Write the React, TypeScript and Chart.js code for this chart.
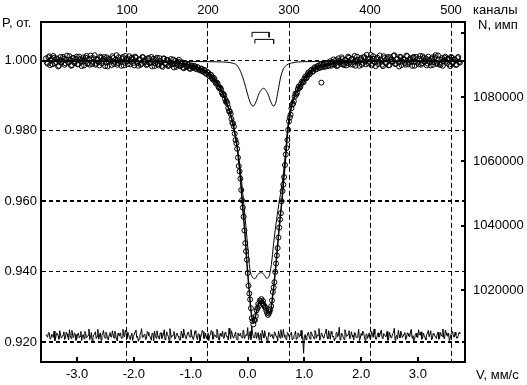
import React, { useEffect, useRef } from 'react';
import { Chart, registerables } from 'chart.js';

Chart.register(...registerables);

// ---- axis ticks ----
const velocityTicks = [-3, -2, -1, 0, 1, 2, 3];
const channelTicks = [100, 200, 300, 400, 500];
const transmissionTicks = [0.92, 0.94, 0.96, 0.98, 1.0];
const countTicks = [1020000, 1040000, 1060000, 1080000, 1100000];

// ---- experimental spectrum, even channels 0,2,4,... (relative transmission) ----
const spectrumEven = [
  1.0006, 0.9991, 1.0012, 1.0001, 0.9989, 1.0008, 0.9996, 1.0003, 0.9985, 1.0010,
  0.9999, 1.0005, 0.9992, 1.0014, 0.9994, 1.0002, 0.9987, 1.0007, 0.9997, 1.0011,
  0.9990, 1.0004, 0.9984, 1.0009, 0.9998, 1.0013, 0.9993, 0.9988, 1.0006, 0.9996,
  1.0015, 0.9991, 1.0003, 0.9986, 1.0008, 0.9999, 1.0010, 0.9994, 0.9983, 1.0005,
  0.9997, 1.0012, 0.9990, 1.0002, 0.9988, 1.0009, 0.9995, 1.0006, 0.9986, 1.0013,
  0.9998, 1.0003, 0.9989, 1.0008, 0.9993, 1.0011, 0.9996, 0.9985, 1.0004, 0.9991,
  1.0009, 0.9995, 0.9987, 1.0006, 0.9992, 1.0010, 0.9997, 0.9984, 1.0003, 0.9990,
  1.0007, 0.9994, 0.9982, 1.0005, 0.9989, 1.0001, 0.9986, 1.0004, 0.9991, 0.9980,
  0.9999, 0.9987, 1.0002, 0.9984, 0.9995, 0.9978, 0.9993, 0.9981, 0.9988, 0.9976,
  0.9986, 0.9979, 0.9983, 0.9975, 0.9980, 0.9972, 0.9977, 0.9968, 0.9973, 0.9962,
  0.9966, 0.9955, 0.9958, 0.9946, 0.9947, 0.9934, 0.9934, 0.9921, 0.9919, 0.9903,
  0.9901, 0.9883, 0.9877, 0.9856, 0.9848, 0.9823, 0.9812, 0.9774, 0.9749, 0.9700,
  0.9664, 0.9603, 0.9556, 0.9481, 0.9434, 0.9360, 0.9321, 0.9268, 0.9250, 0.9262,
  0.9290, 0.9308, 0.9318, 0.9322, 0.9316, 0.9300, 0.9289, 0.9277, 0.9286, 0.9302,
  0.9342, 0.9370, 0.9423, 0.9467, 0.9525, 0.9566, 0.9629, 0.9669, 0.9733, 0.9774,
  0.9827, 0.9846, 0.9875, 0.9884, 0.9906, 0.9909, 0.9926, 0.9925, 0.9940, 0.9939,
  0.9954, 0.9952, 0.9966, 0.9963, 0.9974, 0.9970, 0.9981, 0.9975, 0.9985, 0.9979,
  0.9937, 0.9988, 0.9982, 0.9991, 0.9984, 0.9993, 0.9985, 0.9996, 0.9988, 1.0001,
  0.9986, 0.9999, 0.9990, 1.0004, 0.9987, 1.0002, 0.9993, 1.0008, 0.9989, 1.0005,
  0.9996, 0.9985, 1.0011, 0.9994, 1.0003, 0.9988, 1.0009, 0.9997, 1.0016, 0.9992,
  1.0006, 0.9986, 1.0012, 0.9995, 1.0004, 0.9990, 1.0014, 0.9998, 0.9984, 1.0007,
  0.9993, 1.0010, 0.9987, 1.0003, 0.9996, 1.0015, 0.9991, 1.0005, 0.9983, 1.0009,
  0.9997, 1.0002, 0.9988, 1.0012, 0.9994, 1.0006, 0.9985, 1.0010, 0.9996, 1.0003,
  0.9989, 1.0013, 0.9992, 1.0007, 0.9998, 0.9986, 1.0011, 0.9995, 1.0004, 0.9988,
  1.0009, 0.9993, 1.0014, 0.9990, 1.0002, 0.9985, 1.0008, 0.9997, 1.0005, 0.9989,
  1.0010, 0.9994, 1.0003, 0.9987, 1.0007, 0.9996,
];

// ---- experimental spectrum, odd channels 1,3,5,... ----
const spectrumOdd = [
  0.9994, 1.0009, 0.9987, 1.0004, 1.0013, 0.9992, 1.0006, 0.9983, 1.0001, 0.9995,
  1.0010, 0.9988, 1.0003, 0.9996, 1.0012, 0.9985, 1.0007, 0.9993, 1.0005, 0.9989,
  1.0011, 0.9997, 1.0002, 0.9986, 1.0008, 0.9991, 1.0004, 1.0014, 0.9990, 1.0006,
  0.9988, 1.0003, 0.9995, 1.0011, 0.9992, 1.0005, 0.9984, 1.0009, 0.9998, 1.0002,
  0.9987, 1.0007, 0.9996, 1.0015, 0.9993, 1.0001, 0.9985, 1.0010, 0.9994, 1.0004,
  0.9990, 1.0012, 0.9997, 1.0005, 0.9986, 1.0008, 0.9993, 1.0002, 0.9988, 1.0010,
  0.9996, 1.0003, 0.9989, 1.0007, 0.9994, 0.9983, 1.0005, 0.9991, 1.0008, 0.9986,
  0.9998, 0.9985, 1.0006, 0.9993, 1.0002, 0.9984, 0.9996, 0.9988, 1.0003, 0.9990,
  0.9982, 0.9997, 0.9986, 0.9992, 0.9980, 0.9990, 0.9983, 0.9987, 0.9978, 0.9984,
  0.9980, 0.9985, 0.9977, 0.9981, 0.9974, 0.9976, 0.9970, 0.9972, 0.9964, 0.9967,
  0.9957, 0.9960, 0.9950, 0.9951, 0.9939, 0.9937, 0.9925, 0.9923, 0.9909, 0.9905,
  0.9891, 0.9884, 0.9865, 0.9855, 0.9834, 0.9821, 0.9792, 0.9765, 0.9724, 0.9685,
  0.9632, 0.9582, 0.9517, 0.9458, 0.9396, 0.9338, 0.9296, 0.9259, 0.9263, 0.9274,
  0.9296, 0.9303, 0.9316, 0.9311, 0.9305, 0.9297, 0.9283, 0.9281, 0.9293, 0.9318,
  0.9355, 0.9399, 0.9446, 0.9497, 0.9548, 0.9600, 0.9647, 0.9703, 0.9751, 0.9803,
  0.9838, 0.9864, 0.9877, 0.9897, 0.9903, 0.9919, 0.9922, 0.9934, 0.9937, 0.9948,
  0.9949, 0.9961, 0.9960, 0.9971, 0.9968, 0.9978, 0.9976, 0.9983, 0.9980, 0.9988,
  0.9981, 0.9990, 0.9983, 0.9994, 0.9986, 0.9998, 0.9989, 1.0003, 0.9992, 0.9984,
  1.0006, 0.9995, 1.0009, 0.9990, 1.0001, 0.9986, 1.0011, 0.9994, 1.0004, 0.9988,
  1.0013, 0.9997, 1.0002, 0.9985, 1.0007, 0.9993, 1.0010, 0.9989, 1.0004, 0.9996,
  1.0016, 0.9991, 1.0005, 0.9984, 1.0008, 0.9997, 1.0002, 0.9988, 1.0012, 0.9994,
  1.0006, 0.9986, 1.0009, 0.9998, 1.0013, 0.9990, 1.0003, 0.9995, 1.0011, 0.9987,
  1.0005, 0.9993, 1.0014, 0.9989, 1.0001, 0.9996, 1.0008, 0.9985, 1.0010, 0.9994,
  1.0004, 0.9988, 1.0012, 0.9997, 1.0006, 0.9991, 1.0002, 0.9986, 1.0009, 0.9995,
  1.0015, 0.9990, 1.0003, 0.9987, 1.0007, 0.9998, 1.0011, 0.9992, 1.0005, 0.9984,
  1.0008, 0.9996, 1.0002, 0.9989, 1.0010, 0.9994,
];

// ---- residual (difference) curve, even channels ----
const residualEven = [
  0.9221, 0.9214, 0.9226, 0.9210, 0.9219, 0.9231, 0.9212, 0.9224, 0.9208, 0.9220,
  0.9215, 0.9229, 0.9211, 0.9223, 0.9206, 0.9218, 0.9233, 0.9213, 0.9222, 0.9209,
  0.9225, 0.9216, 0.9204, 0.9221, 0.9230, 0.9212, 0.9219, 0.9207, 0.9227, 0.9214,
  0.9222, 0.9210, 0.9236, 0.9217, 0.9205, 0.9224, 0.9213, 0.9228, 0.9209, 0.9220,
  0.9215, 0.9232, 0.9211, 0.9223, 0.9203, 0.9219, 0.9226, 0.9212, 0.9218, 0.9234,
  0.9210, 0.9221, 0.9207, 0.9225, 0.9216, 0.9229, 0.9213, 0.9202, 0.9220, 0.9238,
  0.9214, 0.9222, 0.9209, 0.9227, 0.9217, 0.9205, 0.9224, 0.9231, 0.9211, 0.9219,
  0.9208, 0.9226, 0.9215, 0.9235, 0.9212, 0.9221, 0.9204, 0.9223, 0.9218, 0.9230,
  0.9210, 0.9225, 0.9213, 0.9206, 0.9222, 0.9237, 0.9216, 0.9209, 0.9228, 0.9214,
  0.9220, 0.9207, 0.9232, 0.9212, 0.9224, 0.9203, 0.9219, 0.9229, 0.9215, 0.9210,
  0.9226, 0.9217, 0.9233, 0.9208, 0.9221, 0.9213, 0.9227, 0.9205, 0.9218, 0.9231,
  0.9211, 0.9224, 0.9216, 0.9239, 0.9209, 0.9222, 0.9214, 0.9228, 0.9206, 0.9220,
  0.9225, 0.9212, 0.9234, 0.9215, 0.9219, 0.9207, 0.9230, 0.9246, 0.9213, 0.9223,
  0.9210, 0.9227, 0.9217, 0.9204, 0.9221, 0.9232, 0.9214, 0.9208, 0.9226, 0.9218,
  0.9211, 0.9229, 0.9216, 0.9202, 0.9222, 0.9235, 0.9213, 0.9220, 0.9209, 0.9227,
  0.9215, 0.9224, 0.9206, 0.9219, 0.9231, 0.9212, 0.9223, 0.9217, 0.9210, 0.9168,
  0.9221, 0.9214, 0.9228, 0.9208, 0.9225, 0.9216, 0.9233, 0.9211, 0.9219, 0.9205,
  0.9226, 0.9213, 0.9222, 0.9237, 0.9209, 0.9218, 0.9230, 0.9214, 0.9203, 0.9224,
  0.9215, 0.9242, 0.9210, 0.9221, 0.9207, 0.9227, 0.9217, 0.9232, 0.9212, 0.9220,
  0.9206, 0.9225, 0.9214, 0.9236, 0.9211, 0.9219, 0.9228, 0.9204, 0.9223, 0.9216,
  0.9209, 0.9230, 0.9213, 0.9222, 0.9208, 0.9226, 0.9218, 0.9234, 0.9210, 0.9221,
  0.9215, 0.9205, 0.9227, 0.9212, 0.9224, 0.9239, 0.9216, 0.9209, 0.9220, 0.9231,
  0.9213, 0.9223, 0.9207, 0.9226, 0.9217, 0.9229, 0.9211, 0.9202, 0.9222, 0.9214,
  0.9235, 0.9219, 0.9208, 0.9225, 0.9212, 0.9221, 0.9233, 0.9215, 0.9206, 0.9224,
  0.9218, 0.9210, 0.9228, 0.9213, 0.9220, 0.9237, 0.9209, 0.9226, 0.9216, 0.9204,
  0.9222, 0.9230, 0.9214, 0.9219, 0.9211, 0.9227,
];

// ---- residual, odd channels ----
const residualOdd = [
  0.9216, 0.9227, 0.9209, 0.9222, 0.9213, 0.9204, 0.9225, 0.9217, 0.9232, 0.9211,
  0.9220, 0.9207, 0.9228, 0.9214, 0.9235, 0.9210, 0.9219, 0.9226, 0.9205, 0.9223,
  0.9212, 0.9230, 0.9218, 0.9209, 0.9224, 0.9215, 0.9237, 0.9213, 0.9202, 0.9221,
  0.9229, 0.9216, 0.9208, 0.9226, 0.9219, 0.9233, 0.9211, 0.9222, 0.9206, 0.9227,
  0.9214, 0.9220, 0.9231, 0.9207, 0.9225, 0.9217, 0.9210, 0.9236, 0.9215, 0.9223,
  0.9228, 0.9212, 0.9219, 0.9204, 0.9222, 0.9234, 0.9216, 0.9209, 0.9226, 0.9213,
  0.9221, 0.9207, 0.9230, 0.9218, 0.9212, 0.9225, 0.9203, 0.9219, 0.9232, 0.9214,
  0.9226, 0.9210, 0.9222, 0.9206, 0.9229, 0.9216, 0.9238, 0.9213, 0.9220, 0.9208,
  0.9224, 0.9217, 0.9205, 0.9231, 0.9212, 0.9223, 0.9209, 0.9227, 0.9215, 0.9235,
  0.9211, 0.9219, 0.9226, 0.9207, 0.9221, 0.9214, 0.9233, 0.9210, 0.9225, 0.9218,
  0.9204, 0.9222, 0.9229, 0.9213, 0.9219, 0.9236, 0.9208, 0.9224, 0.9216, 0.9211,
  0.9227, 0.9215, 0.9206, 0.9223, 0.9232, 0.9212, 0.9220, 0.9209, 0.9226, 0.9217,
  0.9214, 0.9230, 0.9210, 0.9221, 0.9241, 0.9216, 0.9207, 0.9225, 0.9213, 0.9228,
  0.9219, 0.9206, 0.9224, 0.9234, 0.9212, 0.9218, 0.9203, 0.9227, 0.9215, 0.9222,
  0.9209, 0.9225, 0.9217, 0.9231, 0.9211, 0.9220, 0.9236, 0.9214, 0.9206, 0.9224,
  0.9218, 0.9228, 0.9210, 0.9221, 0.9207, 0.9226, 0.9215, 0.9233, 0.9212, 0.9219,
  0.9206, 0.9223, 0.9214, 0.9229, 0.9217, 0.9209, 0.9227, 0.9220, 0.9238, 0.9213,
  0.9221, 0.9211, 0.9226, 0.9215, 0.9232, 0.9208, 0.9224, 0.9217, 0.9210, 0.9228,
  0.9218, 0.9206, 0.9225, 0.9213, 0.9235, 0.9216, 0.9222, 0.9209, 0.9229, 0.9214,
  0.9227, 0.9212, 0.9219, 0.9204, 0.9224, 0.9231, 0.9215, 0.9221, 0.9210, 0.9226,
  0.9213, 0.9222, 0.9237, 0.9208, 0.9219, 0.9214, 0.9228, 0.9211, 0.9224, 0.9216,
  0.9230, 0.9209, 0.9221, 0.9215, 0.9226, 0.9205, 0.9219, 0.9233, 0.9212, 0.9223,
  0.9217, 0.9227, 0.9210, 0.9224, 0.9214, 0.9236, 0.9218, 0.9207, 0.9225, 0.9213,
  0.9221, 0.9229, 0.9211, 0.9218, 0.9206, 0.9226, 0.9215, 0.9232, 0.9209, 0.9220,
  0.9214, 0.9223, 0.9208, 0.9227, 0.9216, 0.9212, 0.9234, 0.9219, 0.9225, 0.9210,
  0.9222, 0.9215, 0.9228, 0.9211, 0.9219, 0.9224,
];

// ---- total fit (velocity mm/s, transmission) ----
const fitV = [-3.65, -2.5, -1.71, -1.36, -1.10, -0.92, -0.75, -0.61, -0.48, -0.40,
  -0.31, -0.24, -0.18, -0.13, -0.08, -0.04, -0.01, 0.03, 0.06, 0.10,
  0.13, 0.18, 0.25, 0.31, 0.36, 0.40, 0.45, 0.50, 0.55, 0.61,
  0.66, 0.71, 0.76, 0.83, 0.92, 1.01, 1.10, 1.18, 1.27, 1.45,
  1.71, 2.15, 3.0, 3.85];
const fitP = [0.9998, 0.9998, 0.9997, 0.9994, 0.9990, 0.9982, 0.9970, 0.9950, 0.9922, 0.9893,
  0.9853, 0.9808, 0.9751, 0.9674, 0.9574, 0.9498, 0.9423, 0.9347, 0.9290, 0.9258,
  0.9267, 0.9301, 0.9318, 0.9304, 0.9281, 0.9284, 0.9341, 0.9418, 0.9512, 0.9609,
  0.9703, 0.9802, 0.9859, 0.9899, 0.9928, 0.9950, 0.9967, 0.9977, 0.9983, 0.9990,
  0.9994, 0.9997, 0.9998, 0.9998];

// ---- large doublet component ----
const bigV = [-3.65, -2.5, -1.71, -1.36, -1.10, -0.92, -0.75, -0.61, -0.48, -0.40,
  -0.31, -0.24, -0.20, -0.13, -0.08, -0.03, 0.01, 0.04, 0.08, 0.13,
  0.18, 0.24, 0.29, 0.34, 0.38, 0.42, 0.46, 0.50, 0.55, 0.61,
  0.66, 0.71, 0.76, 0.83, 0.92, 1.01, 1.10, 1.18, 1.27, 1.45,
  1.71, 2.15, 3.0, 3.85];
const bigP = [0.9998, 0.9998, 0.9997, 0.9994, 0.9990, 0.9982, 0.9970, 0.9950, 0.9922, 0.9893,
  0.9853, 0.9811, 0.9774, 0.9694, 0.9617, 0.9532, 0.9460, 0.9409, 0.9386, 0.9380,
  0.9392, 0.9397, 0.9392, 0.9381, 0.9387, 0.9420, 0.9480, 0.9533, 0.9590, 0.9651,
  0.9720, 0.9810, 0.9861, 0.9901, 0.9929, 0.9951, 0.9967, 0.9977, 0.9983, 0.9990,
  0.9994, 0.9997, 0.9998, 0.9998];

// ---- small doublet component ----
const smallV = [-3.65, -1.0, -0.5, -0.25, -0.19, -0.12, -0.06, 0.0, 0.05, 0.10,
  0.15, 0.20, 0.25, 0.28, 0.31, 0.36, 0.41, 0.46, 0.50, 0.54,
  0.58, 0.63, 0.69, 0.78, 0.9, 1.2, 3.85];
const smallP = [0.9997, 0.9997, 0.9996, 0.9992, 0.9987, 0.9968, 0.9940, 0.9905, 0.9880, 0.9870,
  0.9883, 0.9905, 0.9918, 0.9921, 0.9918, 0.9905, 0.9883, 0.9870, 0.9882, 0.9915,
  0.9950, 0.9975, 0.9987, 0.9993, 0.9996, 0.9997, 0.9997];

// ---- doublet line-position brackets ----
const bracketUpperV = [0.08, 0.08, 0.38, 0.38];
const bracketUpperP = [1.0066, 1.0080, 1.0080, 1.0066];
const bracketLowerV = [0.13, 0.13, 0.46, 0.46];
const bracketLowerP = [1.0048, 1.0060, 1.0060, 1.0048];

const FONT = '"Liberation Sans", Arial, sans-serif';

const pairs = (xs: number[], ys: number[]) => xs.map((x, i) => ({ x, y: ys[i] }));
// even / odd channel arrays merged into channel order
const byChannel = (even: number[], odd: number[]) =>
  even.flatMap((e, i) => [{ x: 2 * i, y: e }, { x: 2 * i + 1, y: odd[i] }]);

const decorPlugin = {
  id: 'decor',
  afterDraw(chart: any) {
    const ctx = chart.ctx;
    const area = chart.chartArea;
    const xs = chart.scales.x;
    const ys2 = chart.scales.y2;
    ctx.save();
    ctx.strokeStyle = '#000';
    ctx.lineWidth = 2;
    ctx.setLineDash([]);
    ctx.beginPath();
    xs.ticks.forEach((t: any) => {
      const px = Math.round(xs.getPixelForValue(t.value));
      ctx.moveTo(px, area.bottom);
      ctx.lineTo(px, area.bottom - 5);
    });
    ctx.stroke();
    ctx.beginPath();
    ys2.ticks.forEach((t: any) => {
      const py = Math.round(ys2.getPixelForValue(t.value));
      ctx.moveTo(area.right, py);
      ctx.lineTo(area.right - 4, py);
    });
    ctx.stroke();
    ctx.fillStyle = '#000';
    ctx.font = '13px ' + FONT;
    ctx.textBaseline = 'middle';
    ctx.textAlign = 'left';
    ctx.fillText('P, от.', 2, 23);
    ctx.fillText('каналы', 473, 10);
    ctx.fillText('N, имп', 478, 25);
    ctx.fillText('V, мм/с', 476, 375);
    ctx.restore();
  },
};

const fixBox = (w: number | null, h: number | null) => (s: any) => {
  if (w !== null) s.width = w;
  if (h !== null) s.height = h;
  s.paddingLeft = 0;
  s.paddingRight = 0;
  s.paddingTop = 0;
  s.paddingBottom = 0;
};

export default function App() {
  const ref = useRef<HTMLCanvasElement | null>(null);

  useEffect(() => {
    if (!ref.current) return;
    Chart.defaults.font.family = FONT;
    Chart.defaults.font.size = 13;
    Chart.defaults.color = '#000';

    const lineCommon = {
      type: 'line' as const,
      borderColor: '#000',
      pointRadius: 0,
      fill: false,
      xAxisID: 'x',
      yAxisID: 'y',
    };

    const chart = new Chart(ref.current, {
      type: 'line',
      data: {
        datasets: [
          { ...lineCommon, label: 'bracket1', data: pairs(bracketUpperV, bracketUpperP), borderWidth: 1, tension: 0 },
          { ...lineCommon, label: 'bracket2', data: pairs(bracketLowerV, bracketLowerP), borderWidth: 1, tension: 0 },
          { ...lineCommon, label: 'fit', data: pairs(fitV, fitP), borderWidth: 1.5, cubicInterpolationMode: 'monotone' },
          { ...lineCommon, label: 'big', data: pairs(bigV, bigP), borderWidth: 1, cubicInterpolationMode: 'monotone' },
          { ...lineCommon, label: 'small', data: pairs(smallV, smallP), borderWidth: 1, cubicInterpolationMode: 'monotone' },
          {
            ...lineCommon,
            label: 'residual',
            xAxisID: 'x2',
            data: byChannel(residualEven, residualOdd),
            borderWidth: 1,
            tension: 0,
          },
          {
            type: 'line',
            label: 'experiment',
            xAxisID: 'x2',
            yAxisID: 'y',
            showLine: false,
            data: byChannel(spectrumEven, spectrumOdd),
            pointRadius: 2.5,
            pointBorderWidth: 1,
            pointBorderColor: '#000',
            pointBackgroundColor: 'rgba(0,0,0,0)',
            borderColor: '#000',
          },
        ] as any,
      },
      options: {
        responsive: false,
        maintainAspectRatio: false,
        animation: false,
        events: [],
        layout: { padding: 0, autoPadding: false } as any,
        plugins: { legend: { display: false }, tooltip: { enabled: false } },
        scales: {
          x: {
            type: 'linear',
            position: 'bottom',
            min: -3.6356,
            max: 3.8292,
            afterBuildTicks: (s: any) => { s.ticks = velocityTicks.map((v) => ({ value: v })); },
            afterFit: fixBox(null, 23),
            grid: { display: false, drawTicks: false },
            border: { display: true, color: '#000', width: 2 },
            ticks: {
              color: '#000',
              padding: 5,
              maxRotation: 0,
              autoSkip: false,
              font: { family: FONT, size: 13 },
              callback: (v: any) => Number(v).toFixed(1),
            },
          },
          x2: {
            type: 'linear',
            position: 'top',
            min: -6.17,
            max: 517.28,
            afterBuildTicks: (s: any) => { s.ticks = channelTicks.map((v) => ({ value: v })); },
            afterFit: fixBox(null, 22),
            grid: { display: true, drawOnChartArea: true, drawTicks: false, color: '#000', lineWidth: 1 },
            border: { display: true, color: '#000', width: 2, dash: [5, 3] },
            ticks: {
              color: '#000',
              padding: 4,
              maxRotation: 0,
              autoSkip: false,
              font: { family: FONT, size: 13 },
              callback: (v: any) => String(v),
            },
          },
          y: {
            type: 'linear',
            position: 'left',
            min: 0.91432,
            max: 1.01094,
            afterBuildTicks: (s: any) => { s.ticks = transmissionTicks.map((v) => ({ value: v })); },
            afterFit: fixBox(41, null),
            grid: {
              display: true,
              drawTicks: false,
              color: '#000',
              lineWidth: (c: any) => {
                const v = c.tick ? c.tick.value : 0;
                return Math.abs(v - 0.96) < 1e-6 || Math.abs(v - 0.92) < 1e-6 ? 2 : 1;
              },
            },
            border: { display: true, color: '#000', width: 2, dash: [4, 3] },
            ticks: {
              color: '#000',
              padding: 4,
              autoSkip: false,
              font: { family: FONT, size: 13 },
              callback: (v: any) => Number(v).toFixed(3),
            },
          },
          y2: {
            type: 'linear',
            position: 'right',
            min: 997587,
            max: 1103424,
            afterBuildTicks: (s: any) => { s.ticks = countTicks.map((v) => ({ value: v })); },
            afterFit: fixBox(62, null),
            grid: { display: false, drawTicks: false },
            border: { display: true, color: '#000', width: 2 },
            ticks: {
              color: '#000',
              padding: 8,
              autoSkip: false,
              font: { family: FONT, size: 13 },
              callback: (v: any) => (Number(v) === 1100000 ? '' : String(v)),
            },
          },
        } as any,
      },
      plugins: [decorPlugin],
    });

    return () => chart.destroy();
  }, []);

  return (
    <div style={{ position: 'fixed', left: 0, top: 0, width: 527, height: 385, background: '#fff' }}>
      <canvas ref={ref} width={527} height={385} style={{ display: 'block' }} />
    </div>
  );
}
